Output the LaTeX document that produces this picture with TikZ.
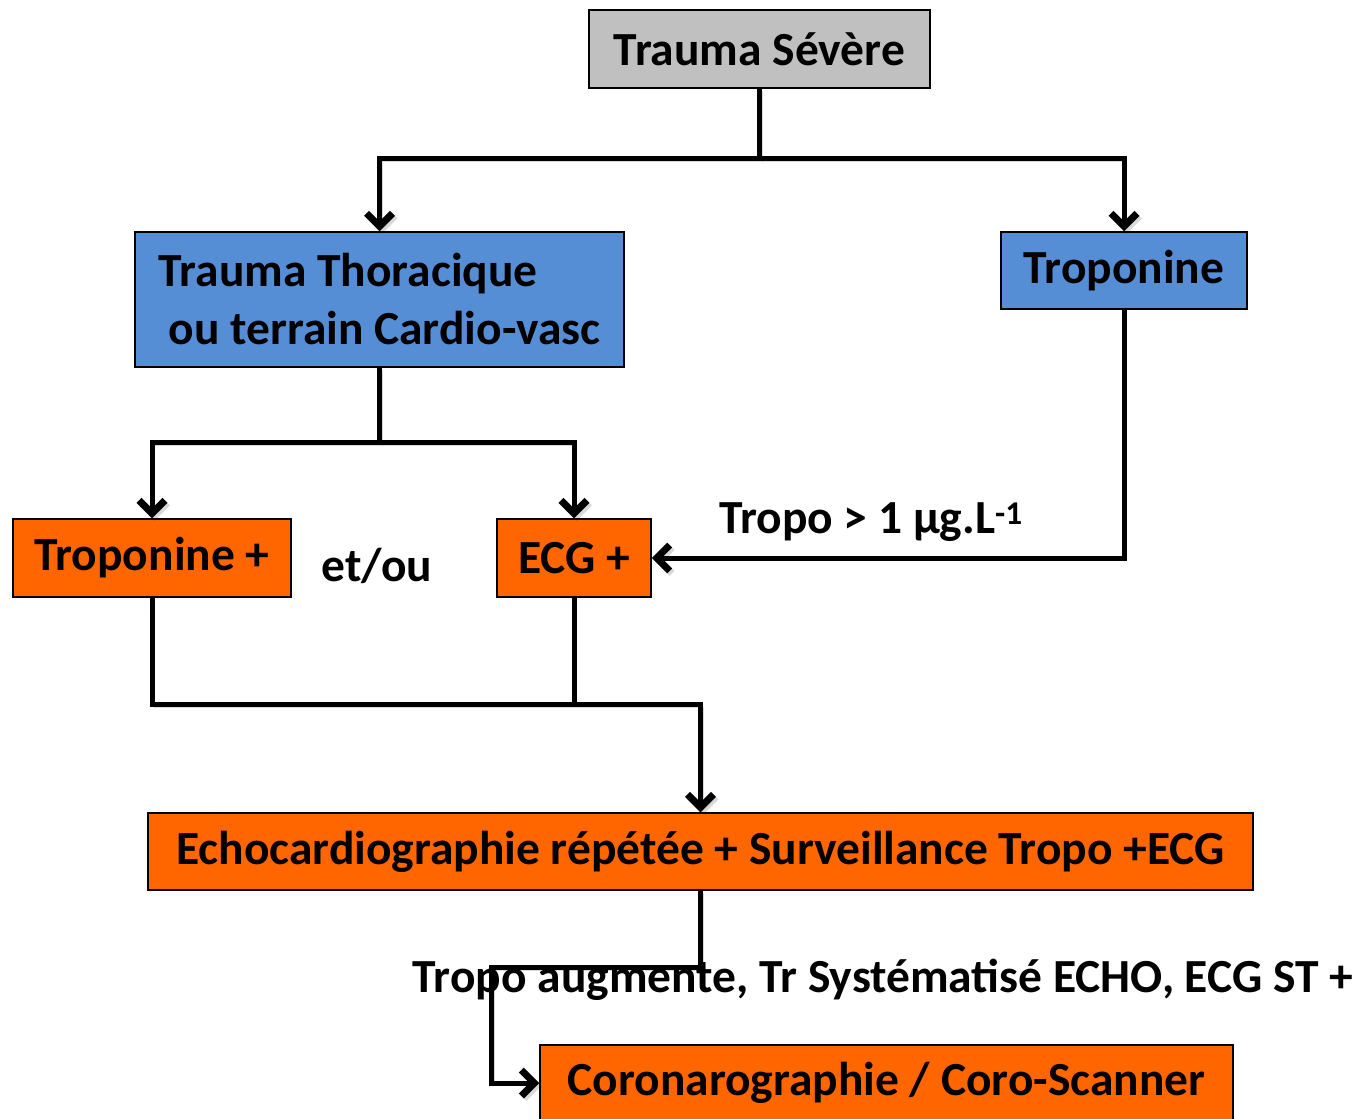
\documentclass[tikz,border=0pt]{standalone}
\usepackage{fontspec}
\setmainfont{Carlito}
\usetikzlibrary{calc}
\usetikzlibrary{arrows.meta}
\definecolor{orangebox}{HTML}{FF6600}
\definecolor{bluebox}{HTML}{558ED5}
\definecolor{graybox}{HTML}{C0C0C0}
\tikzset{
	box/.style={draw=black, line width=1.5pt, inner sep=0pt, font=\bfseries\fontsize{47.5}{58}\selectfont},
	lbl/.style={inner sep=0pt, font=\bfseries\fontsize{47.5}{58}\selectfont},
	link/.style={line width=5pt, draw=black,
		preaction={draw=black, opacity=.15, transform canvas={shift={(2.5pt,-2.5pt)}}}},
	arr/.style={link, -{Straight Barb[length=13pt,width=26pt,line width=7pt]}}
}
\begin{document}
\begin{tikzpicture}[x=1pt,y=-1pt]
	\useasboundingbox (0,0) rectangle (1363,1119);
	% boxes
	\node[box, fill=graybox, minimum width=341pt, minimum height=78pt] (sev) at (759.5,49) {Trauma Sévère};
	\node[box, fill=bluebox, minimum width=489pt, minimum height=135pt, align=left] (thor) at (379.5,299.5) {Trauma Thoracique\\\hspace*{10pt}ou terrain Cardio-vasc};
	\node[box, fill=bluebox, minimum width=246pt, minimum height=77pt] (tropo) at (1124,270.5) {Troponine};
	\node[box, fill=orangebox, minimum width=278pt, minimum height=78pt] (tplus) at (152,558) {Troponine +};
	\node[box, fill=orangebox, minimum width=154pt, minimum height=78pt] (ecg) at (574,558) {ECG +};
	\node[box, fill=orangebox, minimum width=1105pt, minimum height=77pt] (echo) at (700.5,851.5) {Echocardiographie répétée + Surveillance Tropo +ECG};
	\node[box, fill=orangebox, minimum width=693pt, minimum height=76pt] (coro) at (886.5,1083) {Coronarographie / Coro-Scanner};
	% labels
	\node[lbl] (etou) at (377,566) {et/ou};
	\node[lbl] (seuil) at (871,522) {Tropo > 1 µg.L\textsuperscript{-1}};
	\node[lbl] (crit) at (883,980) {Tropo augmente, Tr Systématisé ECHO, ECG ST +};
	% links
	\draw[arr] (sev.south) -- ++(0,70) coordinate (j1) -| (thor.north);
	\draw[arr] (j1) -| (tropo.north);
	\draw[arr] (thor.south) -- ++(0,75) coordinate (j2) -| (tplus.north);
	\draw[arr] (j2) -| (ecg.north);
	\draw[arr] (tropo.south) |- (ecg.east);
	\draw[arr] (tplus.south) |- ($(echo.north)+(0,-108)$) coordinate (j3) -- (echo.north);
	\draw[link] (ecg.south) -- (ecg.south |- j3);
	\draw[arr] (echo.south) -- ++(0,77) -| ($(coro.west)+(-48,0)$) -- (coro.west);
\end{tikzpicture}
\end{document}
